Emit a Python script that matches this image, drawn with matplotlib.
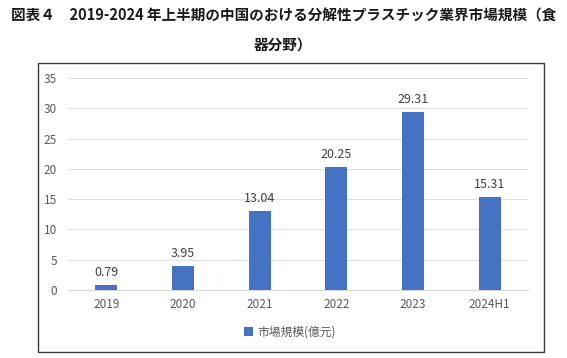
import matplotlib
matplotlib.use("Agg")
import matplotlib.pyplot as plt
from matplotlib.patches import Rectangle

plt.rcParams['font.family'] = ['Noto Sans CJK JP', 'DejaVu Sans']

# data
years = ['2019', '2020', '2021', '2022', '2023', '2024H1']
market_size = [0.79, 3.95, 13.04, 20.25, 29.31, 15.31]
series_name = '市場規模(億元)'
title_line1 = '図表４　2019-2024 年上半期の中国のおける分解性プラスチック業界市場規模（食'
title_line2 = '器分野）'

W, H = 567, 358
fig = plt.figure(figsize=(W / 100, H / 100), dpi=100)

# outer chart frame
fig.patches.append(Rectangle((38 / W, 1 - 352 / H), (544 - 38) / W, (352 - 63) / H,
                             transform=fig.transFigure, fill=False,
                             edgecolor='#3a3a3a', linewidth=1.0))

# title
fig.text(0.5, 1 - 16 / H, title_line1, ha='center', va='center',
         fontsize=10.5, fontweight='bold', color='#1a1a1a')
fig.text(0.5, 1 - 45 / H, title_line2, ha='center', va='center',
         fontsize=10.5, fontweight='bold', color='#1a1a1a')

ax = fig.add_axes([68 / W, 1 - 290 / H, (528 - 68) / W, (290 - 78) / H])
x = range(len(years))
bars = ax.bar(x, market_size, width=0.29, color='#4472C4', label=series_name, zorder=3)

for xi, v in zip(x, market_size):
    ax.text(xi, v + 1.0, f'{v:.2f}', ha='center', va='bottom',
            fontsize=9, color='#404040')

ax.set_ylim(0, 35)
ax.set_xlim(-0.5, len(years) - 0.5)
ax.set_yticks(range(0, 36, 5))
ax.set_xticks(list(x))
ax.set_xticklabels(years)
ax.grid(axis='y', color='#e0e0e0', linewidth=0.8, zorder=0)
for s in ['top', 'right', 'left']:
    ax.spines[s].set_visible(False)
ax.spines['bottom'].set_color('#d9d9d9')
ax.tick_params(axis='both', length=0, labelsize=8.5, colors='#595959')
ax.tick_params(axis='y', pad=8)
ax.tick_params(axis='x', pad=6)

fig.legend(handles=[bars], labels=[series_name], loc='center',
           bbox_to_anchor=(290 / W, 1 - 332 / H), frameon=False,
           fontsize=8.5, handlelength=0.7, handleheight=0.7, handletextpad=0.4,
           labelcolor='#595959')

fig.savefig('out.png', dpi=100)
